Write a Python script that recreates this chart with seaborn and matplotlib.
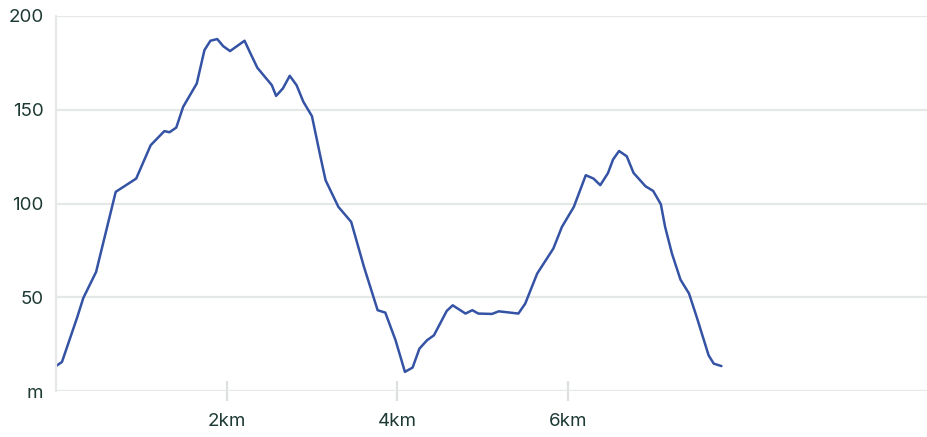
import pandas as pd
import matplotlib
matplotlib.use("Agg")
import matplotlib.pyplot as plt
import seaborn as sns

# elevation profile (distance in km, elevation in m)
distance_km = [0.00, 0.07, 0.25, 0.32, 0.47, 0.70, 0.94, 1.11, 1.27, 1.33,
               1.41, 1.49, 1.65, 1.74, 1.81, 1.89, 1.96, 2.04, 2.21, 2.28,
               2.36, 2.53, 2.58, 2.66, 2.74, 2.82, 2.90, 3.00, 3.10, 3.16,
               3.31, 3.46, 3.61, 3.77, 3.86, 3.98, 4.09, 4.18, 4.26, 4.35,
               4.43, 4.58, 4.65, 4.80, 4.88, 4.95, 5.11, 5.19, 5.42, 5.50,
               5.64, 5.83, 5.93, 6.07, 6.21, 6.30, 6.38, 6.47, 6.53, 6.60,
               6.69, 6.77, 6.91, 7.00, 7.09, 7.14, 7.22, 7.32, 7.42, 7.51,
               7.65, 7.71, 7.80]
elevation_m = [13.3, 15.5, 39.5, 49.6, 63.5, 106.2, 113.3, 131.1, 138.6, 138.0,
               140.5, 151.5, 164.0, 181.8, 186.8, 187.7, 183.9, 181.3, 186.8, 180.0,
               172.4, 163.1, 157.4, 161.4, 168.1, 163.1, 154.2, 146.6, 124.9, 112.4,
               98.2, 90.2, 66.2, 43.1, 41.8, 27.1, 10.2, 12.5, 22.6, 27.1,
               29.7, 42.7, 45.7, 41.3, 43.1, 41.3, 41.1, 42.5, 41.3, 46.6,
               62.6, 76.0, 87.5, 98.2, 115.1, 113.3, 109.8, 116.2, 123.5, 128.0,
               125.2, 116.3, 109.2, 106.7, 99.6, 87.5, 73.3, 59.4, 52.0, 39.5,
               19.0, 14.6, 13.3]

x_ticks = [2, 4, 6]
x_tick_labels = ["2km", "4km", "6km"]
y_ticks = [0, 50, 100, 150, 200]
y_tick_labels = ["m", "50", "100", "150", "200"]

TEXT = "#1d3a34"
GRID = "#e4e8e7"
TICK = "#dce1df"
LINE = "#3553a5"

sns.set_theme(style="white")
plt.rcParams["font.family"] = ["Inter", "DejaVu Sans"]

df = pd.DataFrame({"km": distance_km, "m": elevation_m})

fig = plt.figure(figsize=(9.28, 4.37), dpi=100)
ax = fig.add_axes([56 / 928, 46 / 437, 1 - 56 / 928, 375 / 437])

sns.lineplot(data=df, x="km", y="m", ax=ax, color=LINE, linewidth=1.8)

ax.set_xlim(0, (928 - 55.6) / 85.35)
ax.set_ylim(0, 200)

ax.set_yticks(y_ticks)
ax.set_yticklabels(y_tick_labels)
ax.set_xticks(x_ticks)
ax.set_xticklabels(x_tick_labels)

ax.yaxis.grid(True, color=GRID, linewidth=1.6)
ax.xaxis.grid(False)
ax.set_axisbelow(True)

for s in ["top", "right", "bottom"]:
    ax.spines[s].set_visible(False)
ax.spines["left"].set_color(GRID)
ax.spines["left"].set_linewidth(1.6)

ax.tick_params(axis="y", length=0, pad=9, labelsize=13.5, labelcolor=TEXT)
ax.tick_params(axis="x", direction="inout", length=15, width=1.6, color=TICK,
               bottom=True, pad=8.5, labelsize=13.5, labelcolor=TEXT)

ax.set_xlabel("")
ax.set_ylabel("")

fig.savefig("out.png", dpi=100)
plt.close(fig)
